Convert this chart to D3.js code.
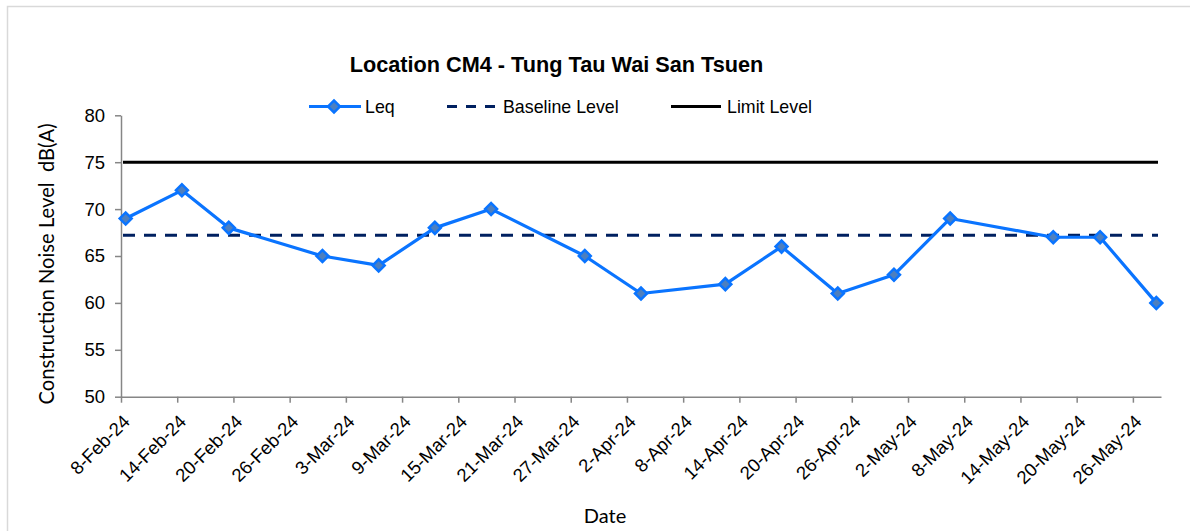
<!DOCTYPE html>
<html>
<head>
<meta charset="utf-8">
<script src="https://cdn.jsdelivr.net/npm/d3@7"></script>
<style>
  body { margin: 0; background: #fff; }
  svg { display: block; }
</style>
</head>
<body>
<script>
const w = 1190;
const h = 531;

// data
const dates = ["2024-02-08", "2024-02-14", "2024-02-19", "2024-02-29", "2024-03-06", "2024-03-12",
  "2024-03-18", "2024-03-28", "2024-04-03", "2024-04-12", "2024-04-18", "2024-04-24",
  "2024-04-30", "2024-05-06", "2024-05-17", "2024-05-22", "2024-05-28"];
const leq = [69, 72, 68, 65, 64, 68, 70, 65, 61, 62, 66, 61, 63, 69, 67, 67, 60];
const baseline = 67.2;
const limit = 75;
const tickDates = ["2024-02-08", "2024-02-14", "2024-02-20", "2024-02-26", "2024-03-03", "2024-03-09",
  "2024-03-15", "2024-03-21", "2024-03-27", "2024-04-02", "2024-04-08", "2024-04-14",
  "2024-04-20", "2024-04-26", "2024-05-02", "2024-05-08", "2024-05-14", "2024-05-20", "2024-05-26"];
const yTicks = [50, 55, 60, 65, 70, 75, 80];

const parse = d3.utcParse("%Y-%m-%d");
const fmt = d3.utcFormat("%-d-%b-%y");

const plotL = 121, plotR = 1161, plotT = 115.3, plotB = 396.7;

const svg = d3.select("body").append("svg").attr("width", w).attr("height", h);

// chart area border (only top and left visible)
svg.append("path")
  .attr("d", "M7.5," + h + "V6.5H" + w)
  .attr("fill", "none")
  .attr("stroke", "#d9d9d9")
  .attr("stroke-width", 1.5);

const xScale = d3.scaleUtc()
  .domain([parse("2024-02-08"), parse("2024-05-29")])
  .range([plotL, plotR]);

const yScale = d3.scaleLinear()
  .domain([50, 80])
  .range([plotB, plotT]);

// points sit in the middle of their day
const px = d => xScale(d3.utcHour.offset(parse(d), 12));

// axes
const xAxis = d3.axisBottom(xScale)
  .tickValues(tickDates.map(parse))
  .tickFormat("")
  .tickSize(6)
  .tickSizeOuter(0);

const gx = svg.append("g")
  .attr("transform", "translate(0," + plotB + ")")
  .call(xAxis);
gx.select(".domain").attr("stroke", "#868686").attr("stroke-width", 1.5);
gx.selectAll(".tick line").attr("stroke", "#868686").attr("stroke-width", 1.5);

svg.append("g")
  .selectAll("text")
  .data(tickDates)
  .enter()
  .append("text")
  .attr("transform", d => "translate(" + (xScale(parse(d)) + 10) + "," + (plotB + 26) + ") rotate(-45)")
  .attr("text-anchor", "end")
  .attr("font-family", "'Liberation Sans', Arial, sans-serif")
  .attr("font-size", 18.5)
  .attr("fill", "#000")
  .text(d => fmt(parse(d)));

const yAxis = d3.axisLeft(yScale)
  .tickValues(yTicks)
  .tickSize(6)
  .tickSizeOuter(0)
  .tickPadding(10);

const gy = svg.append("g")
  .attr("transform", "translate(" + plotL + ",0)")
  .call(yAxis);
gy.select(".domain").attr("stroke", "#868686").attr("stroke-width", 1.5);
gy.selectAll(".tick line").attr("stroke", "#868686").attr("stroke-width", 1.5);
gy.selectAll(".tick text")
  .attr("font-family", "'Liberation Sans', Arial, sans-serif")
  .attr("font-size", 18.5)
  .attr("fill", "#000");

// limit level
svg.append("line")
  .attr("x1", plotL + 2).attr("x2", xScale(parse("2024-05-29")) - 3)
  .attr("y1", yScale(limit)).attr("y2", yScale(limit))
  .attr("stroke", "#000")
  .attr("stroke-width", 3);

// baseline level
svg.append("line")
  .attr("x1", plotL + 2).attr("x2", xScale(parse("2024-05-29")) - 3)
  .attr("y1", yScale(baseline)).attr("y2", yScale(baseline))
  .attr("stroke", "#002060")
  .attr("stroke-width", 3)
  .attr("stroke-dasharray", "12,9");

// Leq line
const line = d3.line()
  .x((d, i) => px(dates[i]))
  .y(d => yScale(d));

svg.append("path")
  .datum(leq)
  .attr("d", line)
  .attr("fill", "none")
  .attr("stroke", "#0a74ff")
  .attr("stroke-width", 3.2)
  .attr("stroke-linejoin", "round");

const diamond = d3.symbol().type(d3.symbolSquare).size(72);

svg.selectAll(".pt")
  .data(leq)
  .enter()
  .append("path")
  .attr("class", "pt")
  .attr("d", diamond)
  .attr("transform", (d, i) => "translate(" + px(dates[i]) + "," + yScale(d) + ") rotate(45)")
  .attr("fill", "#4d7fbf")
  .attr("stroke", "#0a74ff")
  .attr("stroke-width", 2.5);

// title
svg.append("text")
  .attr("x", 556.5)
  .attr("y", 71.5)
  .attr("text-anchor", "middle")
  .attr("font-family", "'Liberation Sans', Arial, sans-serif")
  .attr("font-weight", "bold")
  .attr("font-size", 21.7)
  .text("Location CM4 - Tung Tau Wai San Tsuen");

// legend
const legY = 106.5;
const legend = svg.append("g")
  .attr("font-family", "'Liberation Sans', Arial, sans-serif")
  .attr("font-size", 17.8);

legend.append("line")
  .attr("x1", 309).attr("x2", 361).attr("y1", legY).attr("y2", legY)
  .attr("stroke", "#0a74ff").attr("stroke-width", 3.2);
legend.append("path")
  .attr("d", diamond)
  .attr("transform", "translate(334," + legY + ") rotate(45)")
  .attr("fill", "#4d7fbf")
  .attr("stroke", "#0a74ff")
  .attr("stroke-width", 2.5);
legend.append("text").attr("x", 365).attr("y", legY + 6.3).text("Leq");

legend.append("line")
  .attr("x1", 447).attr("x2", 499).attr("y1", legY).attr("y2", legY)
  .attr("stroke", "#002060").attr("stroke-width", 3)
  .attr("stroke-dasharray", "10,9");
legend.append("text").attr("x", 503).attr("y", legY + 6.3).text("Baseline Level");

legend.append("line")
  .attr("x1", 671).attr("x2", 721).attr("y1", legY).attr("y2", legY)
  .attr("stroke", "#000").attr("stroke-width", 3);
legend.append("text").attr("x", 727).attr("y", legY + 6.3).text("Limit Level");

// axis titles
svg.append("text")
  .attr("x", 605)
  .attr("y", 523)
  .attr("text-anchor", "middle")
  .attr("font-family", "Lato, 'Open Sans', sans-serif")
  .attr("font-size", 20)
  .text("Date");

svg.append("text")
  .attr("transform", "translate(54,264) rotate(-90)")
  .attr("text-anchor", "middle")
  .attr("font-family", "Lato, 'Open Sans', sans-serif")
  .attr("font-size", 20.2)
  .style("white-space", "pre")
  .text("Construction Noise Level  dB(A)");
</script>
</body>
</html>
